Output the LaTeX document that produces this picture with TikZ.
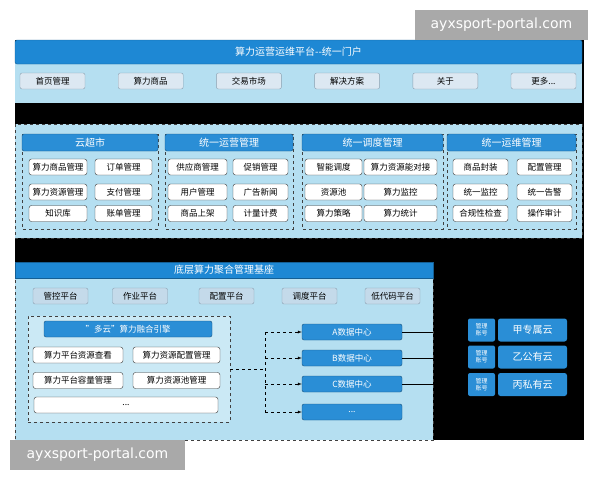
\documentclass[tikz,border=0pt]{standalone}
\usepackage{fontspec}
\setmainfont{Noto Sans CJK SC}
\newfontfamily\wmfont{DejaVu Sans}
\newcommand\etcdots{...}
\definecolor{barblue}{HTML}{1E88D4}
\definecolor{paleblue}{HTML}{B5DFF1}
\definecolor{midblue}{HTML}{2A8ED6}
\definecolor{btngray}{HTML}{DCE8F2}
\definecolor{btnline}{HTML}{8A9FB0}
\definecolor{tabblue}{HTML}{C4DAEA}
\definecolor{wmgray}{HTML}{A9A9A9}
\begin{document}
\begin{tikzpicture}[x=1pt,y=-1pt,
   every node/.style={inner sep=0pt,font=\fontsize{8.5}{9}\selectfont},
   bar/.style={fill=barblue,draw=barblue!70!black,rounded corners=2pt,
      text=white,font=\fontsize{10}{10}\selectfont},
   topbtn/.style={draw=btnline,fill=btngray,rounded corners=2pt,
      minimum width=65pt,minimum height=16pt},
   grpbox/.style={draw=black!75,dashed,fill=paleblue},
   hdr/.style={fill=midblue,draw=midblue!60!black,rounded corners=2pt,
      text=white,minimum height=17pt,font=\fontsize{10}{10}\selectfont},
   cell/.style={draw=black!80,fill=white,rounded corners=2.5pt,minimum height=16pt},
   tab/.style={draw=btnline,fill=tabblue,rounded corners=2pt,
      minimum width=55pt,minimum height=16pt},
   dc/.style={fill=midblue,draw=midblue!60!black,rounded corners=2pt,text=white,
      minimum width=100pt,minimum height=16pt},
   acct/.style={fill=midblue,rounded corners=2pt,text=white,align=center,
      minimum width=27pt,minimum height=23pt,font=\fontsize{6}{7}\selectfont},
   cloud/.style={fill=midblue,rounded corners=2.5pt,text=white,
      minimum width=69pt,minimum height=23pt,font=\fontsize{10}{10}\selectfont},
   wm/.style={fill=wmgray,text=white,minimum height=30pt,
      font=\wmfont\fontsize{14}{14}\selectfont}]

\useasboundingbox[fill=white] (0,0) rectangle (600,480);
\fill[black] (15,40) rectangle (584,440);

\fill[paleblue] (15,60) rectangle (582,103);
\node[bar,minimum width=567pt,minimum height=24pt] (portal) at (298.5,52)
   {算力运营运维平台-{}-统一门户};
\foreach \t [count=\i from 0] in {首页管理,算力商品,交易市场,解决方案,关于,更多\etcdots}
   \node[topbtn] (menu\i) at (52.5+98.2*\i,81) {\t};

\draw[grpbox] (15,124) rectangle (582,238);
\foreach \n/\xa/\xb/\t in {cs/22/158/云超市,yy/165/293/统一运营管理,
                           dd/302/443/统一调度管理,yw/447/576/统一运维管理}{
   \draw[grpbox,fill=none] (\xa,134) rectangle (\xb,229);
   \node[hdr,minimum width=(\xb-\xa)*1pt] (\n) at ({(\xa+\xb)/2},142.5) {\t};
}
\foreach \x/\w/\y/\t [count=\i] in {
      58/58/167/算力商品管理,123.5/57/167/订单管理,
      58/58/192/算力资源管理,123.5/57/192/支付管理,
      58/58/213.5/知识库,123.5/57/213.5/账单管理,
      197.5/59/167/供应商管理,260.5/55/167/促销管理,
      197.5/59/192/用户管理,260.5/55/192/广告新闻,
      197.5/59/213.5/商品上架,260.5/55/213.5/计量计费,
      333.5/57/167/智能调度,400.5/73/167/算力资源能对接,
      333.5/57/192/资源池,400.5/73/192/算力监控,
      333.5/57/213.5/算力策略,400.5/73/213.5/算力统计,
      480.5/55/167/商品封装,544.5/55/167/配置管理,
      480.5/55/192/统一监控,544.5/55/192/统一告警,
      480.5/55/213.5/合规性检查,544.5/55/213.5/操作审计}
   \node[cell,minimum width=\w pt] (cell\i) at (\x,\y) {\t};

\draw[grpbox] (15,262) rectangle (433,440);
\node[bar,rounded corners=0pt,minimum width=418pt,minimum height=16pt] (base)
   at (224,270) {底层算力聚合管理基座};
\foreach \x/\t [count=\i] in {60.5/管控平台,140/作业平台,226.5/配置平台,
                              309.5/调度平台,392.5/低代码平台}
   \node[tab] (tab\i) at (\x,296) {\t};

\node[grpbox,fill=white!30!paleblue,minimum width=202pt,minimum height=106pt]
   (engine) at (129,369) {};
\node[hdr,minimum width=168pt,minimum height=16pt,font=\fontsize{8.5}{9}\selectfont]
   (multi) at (128,329) {\char34 多云\char34 算力融合引擎};
\node[cell,minimum width=90pt] (view) at (78,355) {算力平台资源查看};
\node[cell,minimum width=87pt] (conf) at (176.5,355) {算力资源配置管理};
\node[cell,minimum width=90pt] (cap) at (78,380.5) {算力平台容量管理};
\node[cell,minimum width=87pt] (pool) at (176.5,380.5) {算力资源池管理};
\node[cell,minimum width=184pt] (more) at (126,405) {...};

\node[dc] (dcA) at (352,332) {A数据中心};
\node[dc] (dcB) at (352,358) {B数据中心};
\node[dc] (dcC) at (352,384) {C数据中心};
\node[dc] (dcD) at (352,412) {...};

\coordinate (split) at (265,369);
\coordinate (rim) at (433,0);
\draw[dashed] (engine.east) -- (split);
\draw[dashed] (split |- dcA) -- (split |- dcD);
\foreach \d in {dcA,dcB,dcC,dcD}
   \draw[dashed,-latex] (split |- \d) -- (\d.west);
\foreach \d in {dcA,dcB,dcC}
   \draw (\d.east) -- (\d.east -| rim);

\foreach \y/\t [count=\i] in {330/甲专属云,357/乙公有云,384.5/丙私有云}{
   \node[acct] (acct\i) at (481.5,\y) {管理\\账号};
   \node[cloud] (cloud\i) at (532.5,\y) {\t};
}

\node[wm,minimum width=173pt] (wmtop) at (501.5,25) {ayxsport-portal.com};
\node[wm,minimum width=175pt] (wmbot) at (97.5,455) {ayxsport-portal.com};

\end{tikzpicture}
\end{document}
